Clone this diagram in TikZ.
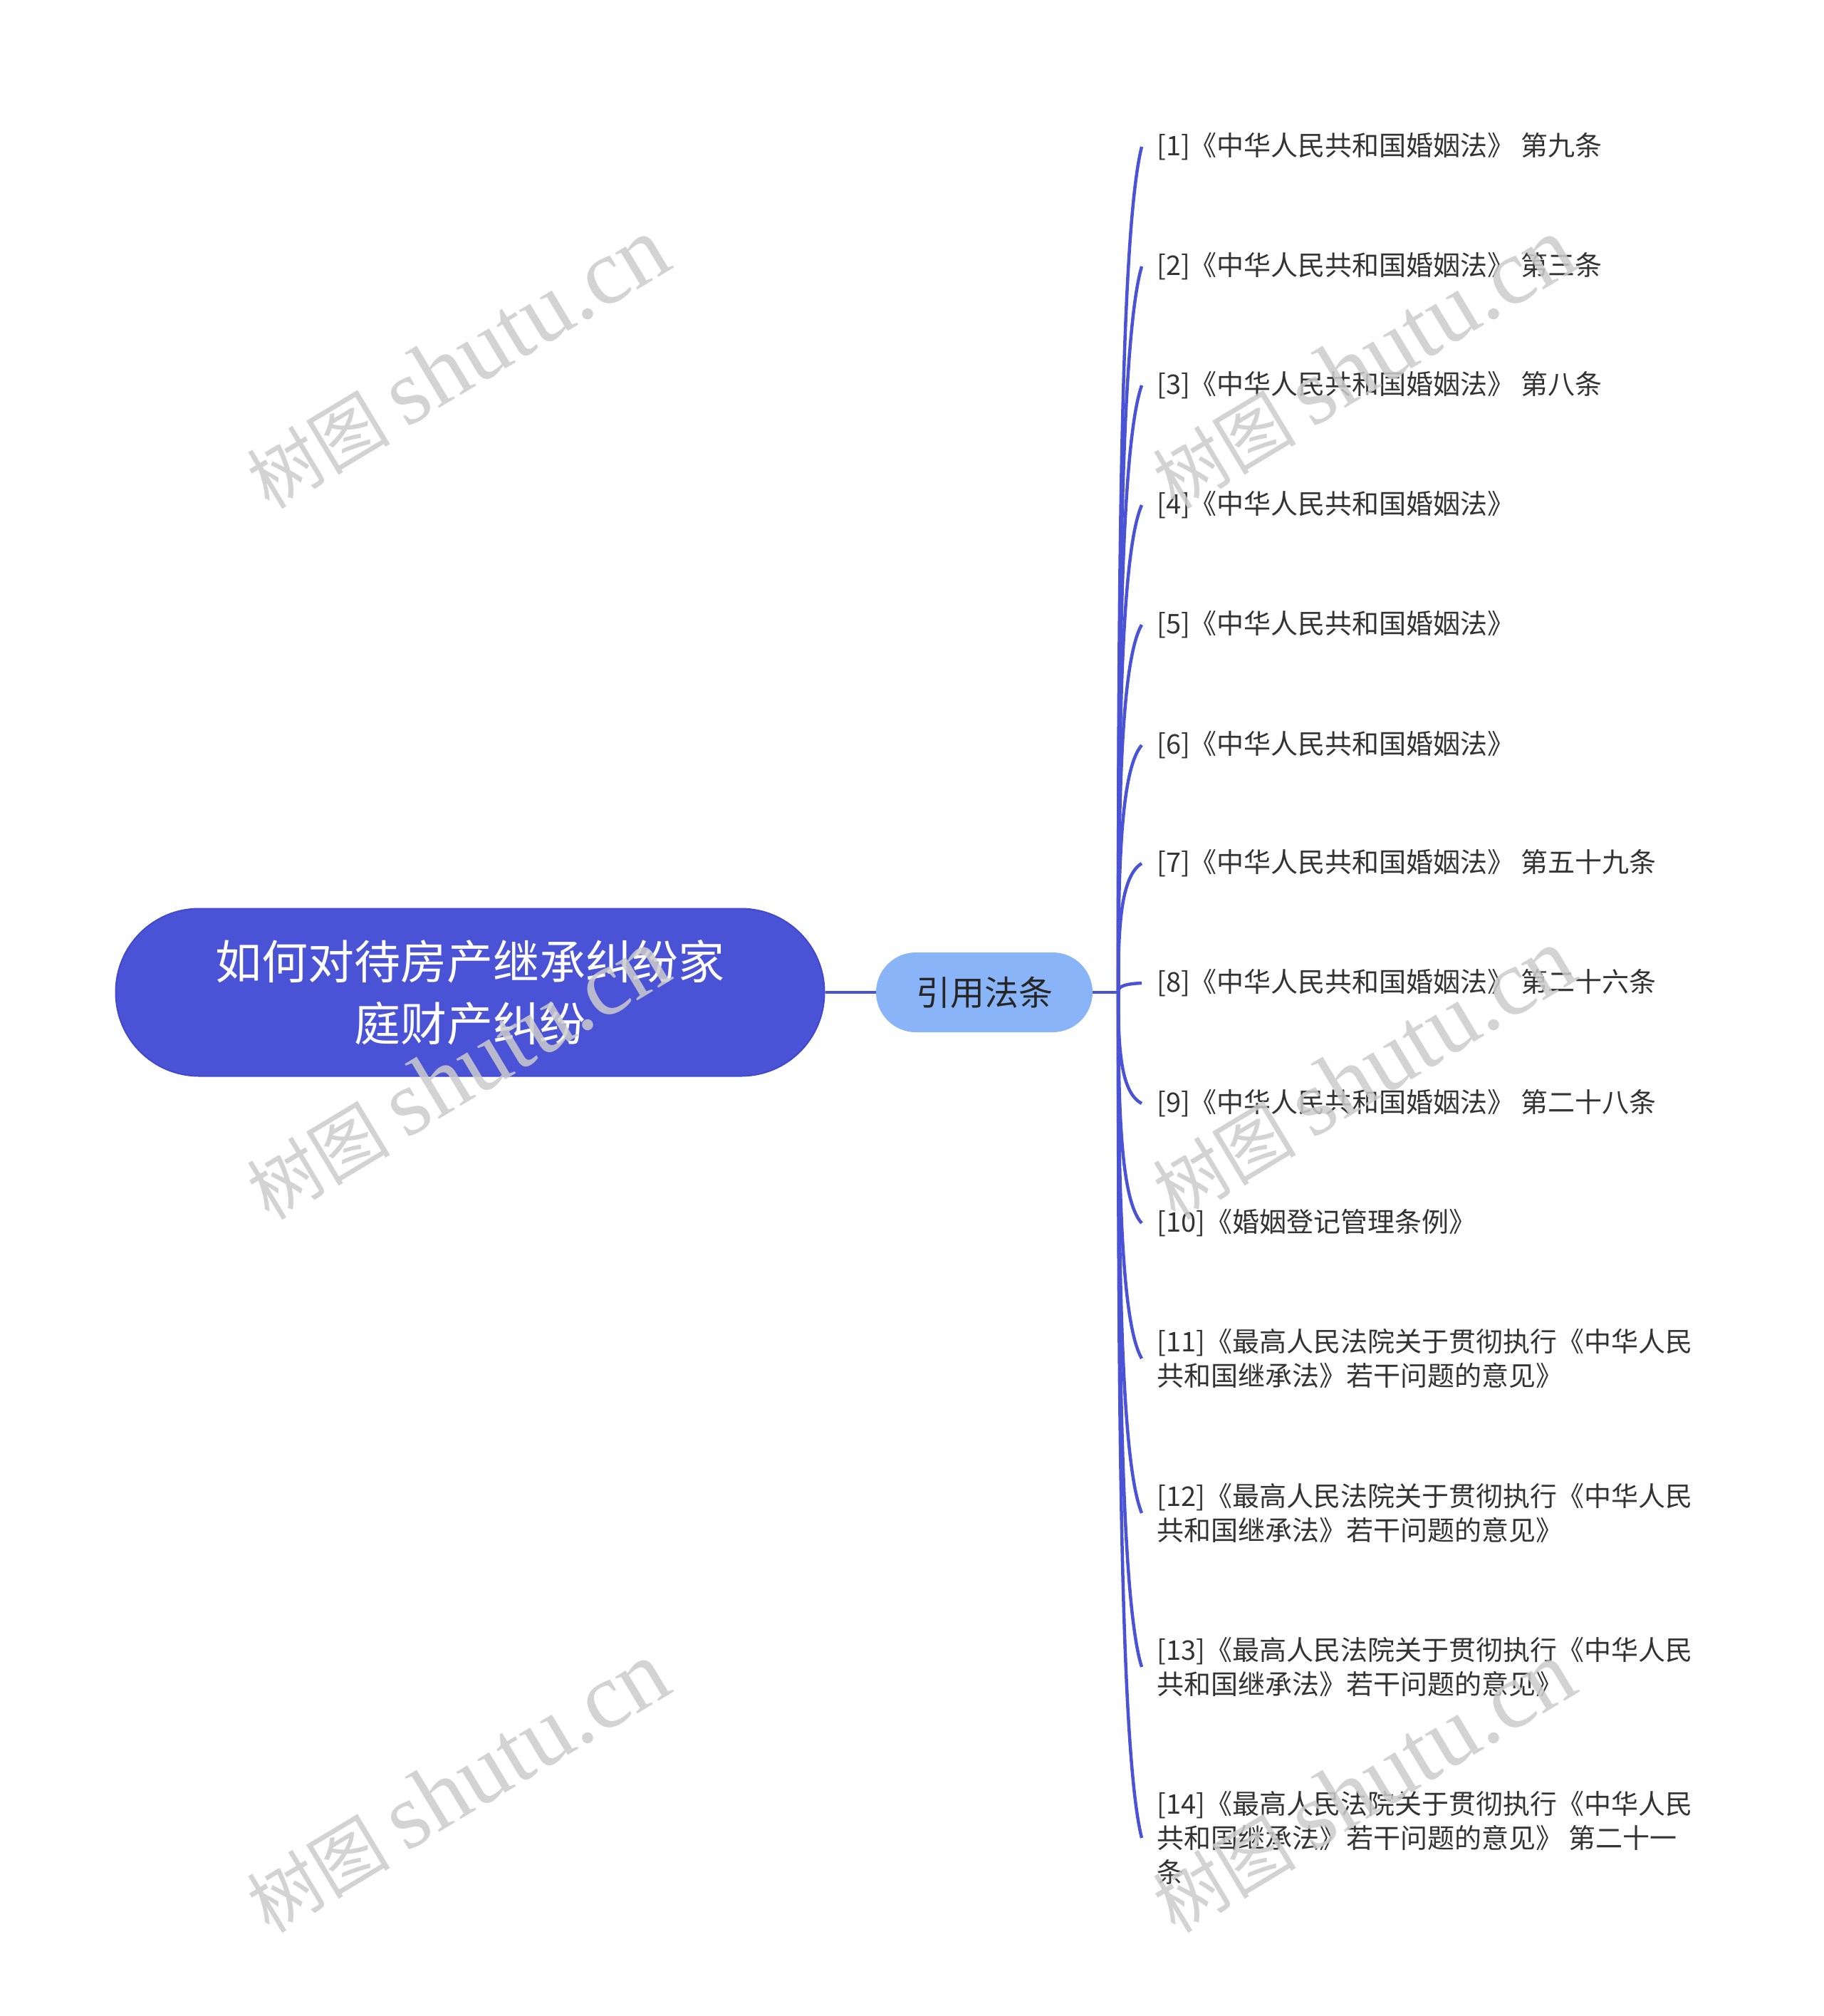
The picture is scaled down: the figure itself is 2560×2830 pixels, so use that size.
\documentclass[tikz,border=0pt]{standalone}
\usepackage{fontspec}
\setmainfont{Noto Sans CJK SC}
\newfontfamily\wmlatin{Liberation Serif}
\usetikzlibrary{calc}
\definecolor{rootblue}{HTML}{4A52D6}
\definecolor{rootedge}{HTML}{4249CC}
\definecolor{subblue}{HTML}{8AB4F8}
\definecolor{linkblue}{HTML}{4A52D6}
\definecolor{leaftext}{HTML}{333333}
\definecolor{subtext}{HTML}{262626}
\definecolor{wmgray}{HTML}{CCCCCC}
\tikzset{
  rootbox/.style={fill=rootblue, draw=rootedge, line width=2pt, rounded corners=117pt,
    minimum width=995pt, minimum height=235pt, text=white, align=center,
    font=\fontsize{65}{87}\selectfont, inner sep=0pt},
  subbox/.style={fill=subblue, draw=none, rounded corners=56pt,
    minimum width=304pt, minimum height=112pt, text=subtext,
    font=\fontsize{48}{58}\selectfont, inner sep=0pt},
  leafbox/.style={anchor=west, inner xsep=21pt, inner ysep=0pt, text=leaftext, align=left,
    font=\fontsize{38}{48}\selectfont},
  conn/.style={draw=linkblue, line width=4.5pt},
  wmark/.style={text=wmgray, opacity=0.85, rotate=31, inner sep=0pt,
    font=\fontsize{101}{120}\selectfont}
}
\begin{document}
\begin{tikzpicture}[x=1pt,y=-1pt]
\path[use as bounding box, fill=white] (0,0) rectangle (2560,2830);

\node[rootbox] (r) at (660,1393) {如何对待房产继承纠纷家\\庭财产纠纷};
\node[subbox] (c) at (1382,1393) {引用法条};
\coordinate (sp) at (1570,1393);

\node[leafbox] (l1) at (1603,206) {[1]《中华人民共和国婚姻法》 第九条};
\node[leafbox] (l2) at (1603,374) {[2]《中华人民共和国婚姻法》 第三条};
\node[leafbox] (l3) at (1603,541) {[3]《中华人民共和国婚姻法》 第八条};
\node[leafbox] (l4) at (1603,709) {[4]《中华人民共和国婚姻法》};
\node[leafbox] (l5) at (1603,877) {[5]《中华人民共和国婚姻法》};
\node[leafbox] (l6) at (1603,1046) {[6]《中华人民共和国婚姻法》};
\node[leafbox] (l7) at (1603,1212) {[7]《中华人民共和国婚姻法》 第五十九条};
\node[leafbox] (l8) at (1603,1380) {[8]《中华人民共和国婚姻法》 第二十六条};
\node[leafbox] (l9) at (1603,1549) {[9]《中华人民共和国婚姻法》 第二十八条};
\node[leafbox] (l10) at (1603,1717) {[10]《婚姻登记管理条例》};
\node[leafbox] (l11) at (1603,1907) {[11]《最高人民法院关于贯彻执行《中华人民\\共和国继承法》若干问题的意见》};
\node[leafbox] (l12) at (1603,2124) {[12]《最高人民法院关于贯彻执行《中华人民\\共和国继承法》若干问题的意见》};
\node[leafbox] (l13) at (1603,2340) {[13]《最高人民法院关于贯彻执行《中华人民\\共和国继承法》若干问题的意见》};
\node[leafbox] (l14) at (1603,2580) {[14]《最高人民法院关于贯彻执行《中华人民\\共和国继承法》若干问题的意见》 第二十一\\条};

\draw[conn] (r.east) -- (c.west);
\draw[conn] (c.east) -- (sp);
\foreach \i in {1,...,14}{
  \draw[conn] let \p1=(sp), \p2=(l\i.west) in
    (\p1) .. controls (\x1,{\y1+0.5*(\y2-\y1)}) and ({\x1+0.1*(\x2-\x1)},{\y1+0.9*(\y2-\y1)}) .. (\p2);
}

\foreach \cx/\cy [count=\k] in {642/510,1914/510,642/1508,1914/1508,642/2509,1914/2509}{
  \node[wmark] (wm\k) at (\cx,\cy) {树图 {\wmlatin\fontsize{131}{140}\selectfont shutu.cn}};
}
\end{tikzpicture}
\end{document}
